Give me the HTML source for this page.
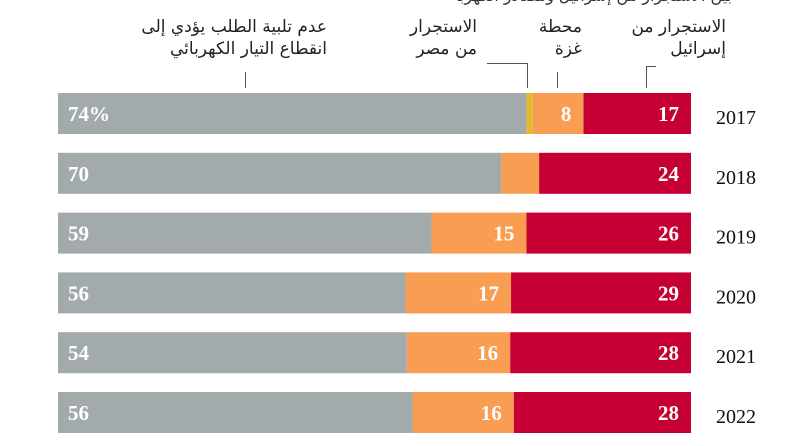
<!DOCTYPE html>
<html><head><meta charset="utf-8"><style>
body{margin:0;width:792px;height:446px;background:#fff;overflow:hidden;position:relative;font-family:"DejaVu Sans","Liberation Sans",sans-serif}
.lab{position:absolute;font-size:17px;line-height:22px;color:#222;text-align:right;direction:rtl;white-space:nowrap}
.ln{position:absolute;background:#555}
</style></head><body>
<div class="lab" style="right:60px;top:-15px;font-size:16px;color:#333">بين الاستجرار من إسرائيل ومصادر الكهرباء</div>
<div class="lab" style="right:66px;top:16px">الاستجرار من<br>إسرائيل</div>
<div class="lab" style="right:210px;top:16px">محطة<br>غزة</div>
<div class="lab" style="right:315px;top:16px">الاستجرار<br>من مصر</div>
<div class="lab" style="right:465px;top:16px">عدم تلبية الطلب يؤدي إلى<br>انقطاع التيار الكهربائي</div>
<div class="ln" style="left:646px;top:66px;width:10px;height:1px"></div>
<div class="ln" style="left:646px;top:66px;width:1px;height:22px"></div>
<div class="ln" style="left:557px;top:72px;width:1px;height:16px"></div>
<div class="ln" style="left:487px;top:63px;width:41px;height:1px"></div>
<div class="ln" style="left:527px;top:63px;width:1px;height:25px"></div>
<div class="ln" style="left:245px;top:72px;width:1px;height:16px"></div>
<svg id="c" width="792" height="446" style="position:absolute;left:0;top:0"></svg>
<script>
const years=["2017","2018","2019","2020","2021","2022"];
const israel=[17,24,26,29,28,28];
const gaza=[8,6,15,17,16,16];
const egypt=[1,0,0,0,0,0];
const unmet=[74,70,59,56,54,56];
const israelLabels=["17","24","26","29","28","28"];
const gazaLabels=["8","","15","17","16","16"];
const unmetLabels=["74%","70","59","56","54","56"];
const svg=document.getElementById('c');
const NS="http://www.w3.org/2000/svg";
const X0=58,X1=691,Y0=93,STEP=59.8,H=41;
function y(i){return Y0+i*STEP;}
function mk(t,a){const e=document.createElementNS(NS,t);for(const k in a)e.setAttribute(k,a[k]);svg.appendChild(e);return e;}
years.forEach((yr,i)=>{
  const tot=israel[i]+gaza[i]+egypt[i]+unmet[i];
  const w=v=>v/tot*(X1-X0);
  let right=X1;
  const segs=[[israel[i],"#c60033",israelLabels[i],"israel"],[gaza[i],"#f99d52",gazaLabels[i],"gaza"],[egypt[i],"#e3b92e","","egypt"],[unmet[i],"#a2aaab",unmetLabels[i],"unmet"]];
  segs.forEach(([v,col,lab,nm],j)=>{
    const ww=w(v);const left=right-ww;
    const r=mk('rect',{x:left,y:y(i),width:ww,height:H,fill:col});
    
    
    if(lab){
      const t=mk('text',{x:j===3?left+10:right-12,y:y(i)+28,fill:'#fff','font-size':'21','font-weight':'bold','font-family':'Liberation Serif, serif','text-anchor':j===3?'start':'end'});
      t.textContent=lab;
      
      
    }
    right=left;
  });
  const t=mk('text',{x:716,y:y(i)+31,fill:'#111','font-size':'20','font-family':'Liberation Serif, serif'});
  t.textContent=yr;
  
  
});
</script>
</body></html>
